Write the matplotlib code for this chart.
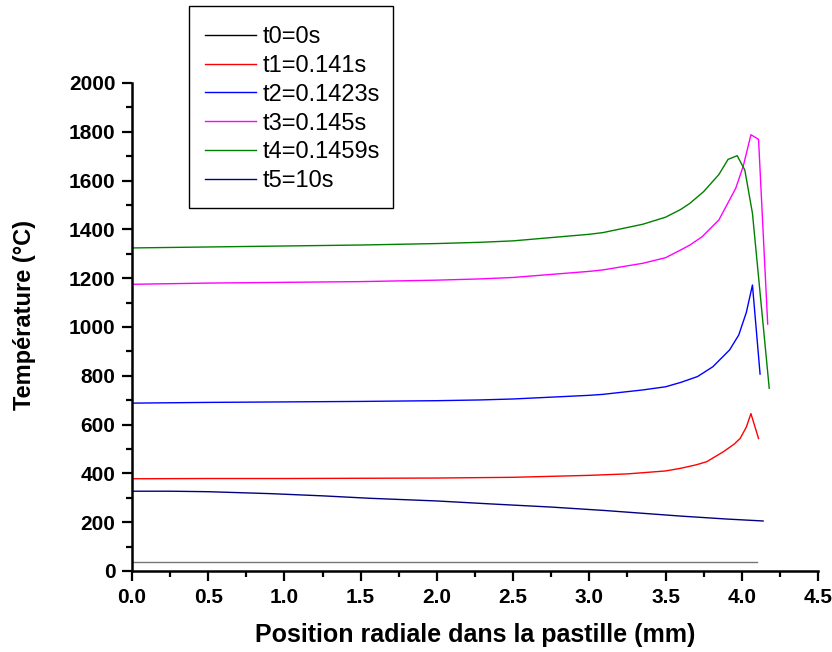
import matplotlib
matplotlib.use('Agg')
import matplotlib.pyplot as plt
from matplotlib.patches import Rectangle
from matplotlib.ticker import MultipleLocator

plt.rcParams['font.family'] = ['Liberation Sans', 'DejaVu Sans']

labels = ['t0=0s', 't1=0.141s', 't2=0.1423s', 't3=0.145s', 't4=0.1459s', 't5=10s']
colors = ['#777777', '#ff0000', '#0000ff', '#ff00ff', '#008000', '#000080']

x0 = [0.0, 4.10]
t0 = [35, 35]

x1 = [0.0, 0.5, 1.0, 1.5, 2.0, 2.5, 3.0, 3.25, 3.5, 3.6, 3.7, 3.77, 3.88, 3.95, 3.99, 4.03, 4.06, 4.11]
t1 = [378, 379, 379, 380, 381, 384, 392, 398, 410, 421, 435, 448, 489, 520, 544, 590, 645, 543]

x2 = [0.0, 0.5, 1.0, 1.5, 2.0, 2.28, 2.5, 3.0, 3.09, 3.35, 3.5, 3.6, 3.71, 3.81, 3.92, 3.98, 4.03, 4.07, 4.12]
t2 = [688, 691, 693, 695, 698, 701, 705, 720, 724, 742, 755, 773, 797, 837, 906, 967, 1060, 1172, 807]

x3 = [0.0, 0.5, 1.0, 1.5, 2.0, 2.28, 2.5, 3.0, 3.09, 3.35, 3.5, 3.6, 3.66, 3.74, 3.85, 3.96, 4.01, 4.06, 4.11, 4.17]
t3 = [1175, 1180, 1183, 1186, 1192, 1197, 1203, 1228, 1234, 1261, 1284, 1316, 1336, 1370, 1439, 1568, 1660, 1788, 1769, 1012]

x4 = [0.0, 0.5, 1.0, 1.5, 2.0, 2.28, 2.5, 3.0, 3.09, 3.35, 3.5, 3.6, 3.66, 3.75, 3.85, 3.91, 3.97, 4.02, 4.07, 4.18]
t4 = [1324, 1328, 1332, 1336, 1342, 1347, 1353, 1380, 1387, 1421, 1450, 1482, 1507, 1555, 1625, 1687, 1702, 1643, 1466, 749]

x5 = [0.0, 0.25, 0.5, 0.91, 1.25, 1.56, 2.0, 2.35, 2.75, 3.1, 3.6, 3.9, 4.14]
t5 = [327, 327, 325, 317, 308, 298, 287, 275, 262, 248, 225, 213, 205]

series = [(x0, t0), (x1, t1), (x2, t2), (x3, t3), (x4, t4), (x5, t5)]

fig = plt.figure(figsize=(8.32, 6.52), dpi=100)
ax = fig.add_axes([132/832, 1 - 571/652, 686/832, 488/652])

for (xs, ys), c, lab in zip(series, colors, labels):
    ax.plot(xs, ys, color=c, linewidth=1.0, label=lab)

ax.set_xlim(0, 4.5)
ax.set_ylim(0, 2000)
ax.xaxis.set_major_locator(MultipleLocator(0.5))
ax.xaxis.set_minor_locator(MultipleLocator(0.25))
ax.yaxis.set_major_locator(MultipleLocator(200))
ax.yaxis.set_minor_locator(MultipleLocator(100))

for s in ['top', 'right']:
    ax.spines[s].set_visible(False)
for s in ['left', 'bottom']:
    ax.spines[s].set_linewidth(1.8)

ax.tick_params(which='major', direction='out', length=7, width=1.6, labelsize=15, pad=5)
ax.tick_params(which='minor', direction='out', length=4, width=1.6)
for t in ax.get_xticklabels() + ax.get_yticklabels():
    t.set_fontweight('bold')

ax.set_xlabel('Position radiale dans la pastille (mm)', fontsize=18, fontweight='bold')
ax.set_ylabel('Température (°C)', fontsize=17, fontweight='bold')
ax.xaxis.set_label_coords(0.5, -0.106)
ax.yaxis.set_label_coords(-0.14, 0.525)

# legend box drawn separately (padding is uneven in the original)
box = Rectangle((189/832, 1 - 208/652), 204/832, 202/652, transform=fig.transFigure,
                facecolor='white', edgecolor='black', linewidth=1.0,
                clip_on=False, zorder=4.5)
ax.add_patch(box)

leg = ax.legend(loc='upper left', bbox_to_anchor=(205/832, 1 - 26/652),
                bbox_transform=fig.transFigure, borderaxespad=0, borderpad=0,
                fontsize=17, frameon=False, handlelength=2.16,
                handletextpad=0.3, labelspacing=0.29)
leg.set_zorder(5)
leg.legend_handles[0].set_color('black')

fig.savefig('out.png', dpi=100)
